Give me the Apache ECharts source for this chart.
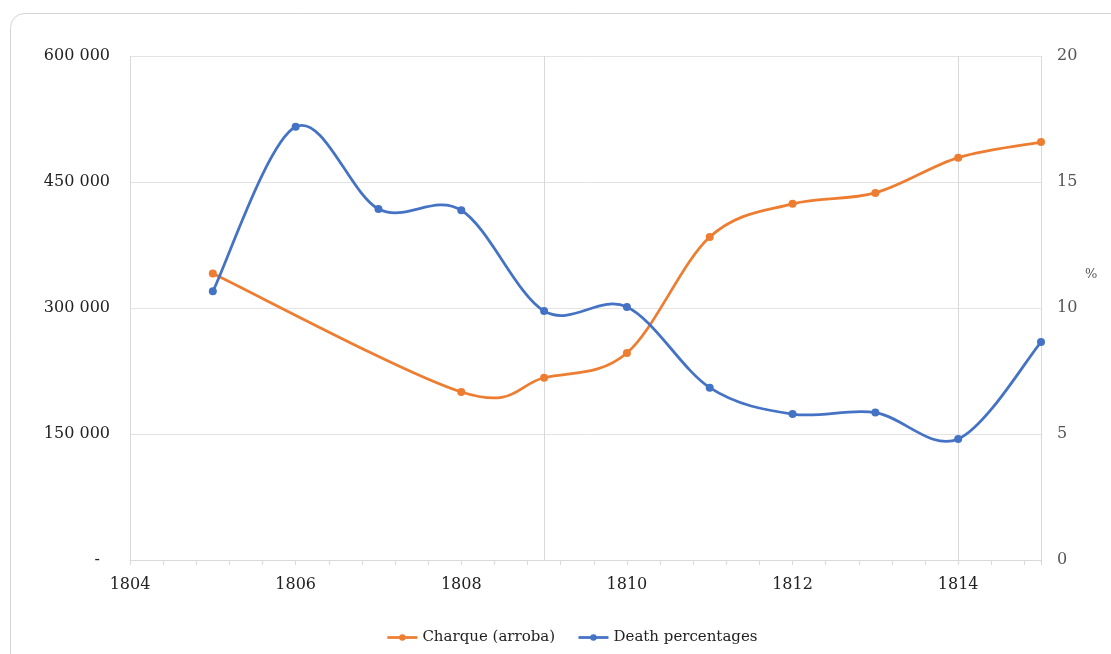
<!DOCTYPE html>
<html>
<head>
<meta charset="utf-8">
<script src="https://cdn.jsdelivr.net/npm/echarts@6/dist/echarts.min.js"></script>
<style>
  html, body { margin: 0; padding: 0; background: #fff; }
  #chart { width: 1111px; height: 654px; }
</style>
</head>
<body>
<div id="chart"></div>
<script>
// Charque output (arrobas) by year
const charqueYears = [1805, 1808, 1809, 1810, 1811, 1812, 1813, 1814, 1815];
const charqueValues = [341000, 200000, 217000, 246500, 384500, 424000, 437000, 479000, 497500];

// Death percentages by year
const deathYears = [1805, 1806, 1807, 1808, 1809, 1810, 1811, 1812, 1813, 1814, 1815];
const deathValues = [10.66, 17.19, 13.93, 13.88, 9.88, 10.04, 6.84, 5.79, 5.85, 4.80, 8.65];

const seriesNames = ['Charque (arroba)', 'Death percentages'];
const rightAxisName = '%';

const FONT = 'DejaVu Serif';
const ORANGE = '#ED7D31';
const BLUE = '#4472C4';
const LINE_WIDTH = 2.75;

function pairs(xs, ys) { return xs.map((x, i) => [x, ys[i]]); }

function thousands(v) {
  if (v === 0) return '-  ';
  return String(v).replace(/\B(?=(\d{3})+(?!\d))/g, ' ');
}

// Cardinal (Catmull-Rom) spline through the points, drawn in pixel space
// via the axes of the series' own coordinate system.
function splineRenderer(points, color) {
  return function (params, api) {
    if (params.dataIndex !== 0) return null;
    const p = points.map(d => api.coord(d));
    const n = p.length;
    const children = [];
    for (let i = 0; i < n - 1; i++) {
      const p0 = p[Math.max(i - 1, 0)];
      const p1 = p[i];
      const p2 = p[i + 1];
      const p3 = p[Math.min(i + 2, n - 1)];
      children.push({
        type: 'bezierCurve',
        shape: {
          x1: p1[0], y1: p1[1],
          x2: p2[0], y2: p2[1],
          cpx1: p1[0] + (p2[0] - p0[0]) / 6,
          cpy1: p1[1] + (p2[1] - p0[1]) / 6,
          cpx2: p2[0] - (p3[0] - p1[0]) / 6,
          cpy2: p2[1] - (p3[1] - p1[1]) / 6
        },
        style: { stroke: color, lineWidth: LINE_WIDTH, fill: null, lineCap: 'round' },
        silent: true
      });
    }
    return { type: 'group', children: children };
  };
}

const charqueData = pairs(charqueYears, charqueValues);
const deathData = pairs(deathYears, deathValues);

const chart = echarts.init(document.getElementById('chart'), null, { renderer: 'canvas' });

chart.setOption({
  animation: false,
  backgroundColor: '#fff',
  textStyle: { fontFamily: FONT },
  graphic: [{
    type: 'rect',
    shape: { x: 10.5, y: 13.5, width: 1130, height: 680, r: 14 },
    style: { fill: 'none', stroke: '#d4d4d4', lineWidth: 1 },
    silent: true,
    z: -1
  }],
  grid: { left: 130, right: 70, top: 56, bottom: 94, containLabel: false },
  legend: {
    bottom: 4,
    left: 381,
    itemWidth: 30,
    itemHeight: 8,
    itemGap: 22,
    lineStyle: { opacity: 1, width: LINE_WIDTH },
    textStyle: { fontFamily: FONT, fontSize: 15, color: '#222' },
    data: seriesNames
  },
  xAxis: [{
    type: 'value',
    min: 1804,
    max: 1815,
    interval: 2,
    axisLine: { show: true, lineStyle: { color: '#d9d9d9', width: 1 } },
    axisTick: { show: true, length: 5, lineStyle: { color: '#d9d9d9' } },
    minorTick: { show: true, splitNumber: 5, length: 5, lineStyle: { color: '#d9d9d9' } },
    splitLine: { show: false },
    axisLabel: {
      fontFamily: FONT, fontSize: 16, color: '#222', margin: 17,
      showMaxLabel: false,
      formatter: v => String(v)
    }
  }, {
    // vertical gridlines every five years
    type: 'value',
    min: 1804,
    max: 1815,
    interval: 5,
    position: 'bottom',
    axisLine: { show: false },
    axisTick: { show: false },
    axisLabel: { show: false },
    splitLine: { show: true, lineStyle: { color: '#d9d9d9', width: 1 } }
  }],
  yAxis: [{
    type: 'value',
    min: 0,
    max: 600000,
    interval: 150000,
    axisLine: { show: false },
    axisTick: { show: false },
    splitLine: { show: true, lineStyle: { color: '#e3e3e3', width: 1 } },
    axisLabel: {
      fontFamily: FONT, fontSize: 16, color: '#222', margin: 20,
      formatter: thousands
    }
  }, {
    type: 'value',
    min: 0,
    max: 20,
    interval: 5,
    position: 'right',
    name: rightAxisName,
    nameLocation: 'middle',
    nameRotate: 0,
    nameGap: 44,
    nameTextStyle: {
      fontFamily: FONT, fontSize: 13, color: '#555',
      verticalAlign: 'bottom', padding: [0, 0, 27, 0]
    },
    axisLine: { show: false },
    axisTick: { show: false },
    splitLine: { show: false },
    axisLabel: { fontFamily: FONT, fontSize: 16, color: '#555', margin: 16 }
  }],
  series: [{
    name: 'charqueCurve',
    type: 'custom',
    xAxisIndex: 0,
    yAxisIndex: 0,
    data: charqueData,
    encode: { x: 0, y: 1 },
    clip: false,
    z: 2,
    renderItem: splineRenderer(charqueData, ORANGE)
  }, {
    name: 'deathCurve',
    type: 'custom',
    xAxisIndex: 0,
    yAxisIndex: 1,
    data: deathData,
    encode: { x: 0, y: 1 },
    clip: false,
    z: 2,
    renderItem: splineRenderer(deathData, BLUE)
  }, {
    name: seriesNames[0],
    type: 'line',
    xAxisIndex: 0,
    yAxisIndex: 0,
    data: charqueData,
    symbol: 'circle',
    symbolSize: 8,
    z: 3,
    color: ORANGE,
    lineStyle: { color: ORANGE, width: LINE_WIDTH, opacity: 0 },
    itemStyle: { color: ORANGE }
  }, {
    name: seriesNames[1],
    type: 'line',
    xAxisIndex: 0,
    yAxisIndex: 1,
    data: deathData,
    symbol: 'circle',
    symbolSize: 8,
    z: 3,
    color: BLUE,
    lineStyle: { color: BLUE, width: LINE_WIDTH, opacity: 0 },
    itemStyle: { color: BLUE }
  }]
});
</script>
</body>
</html>
